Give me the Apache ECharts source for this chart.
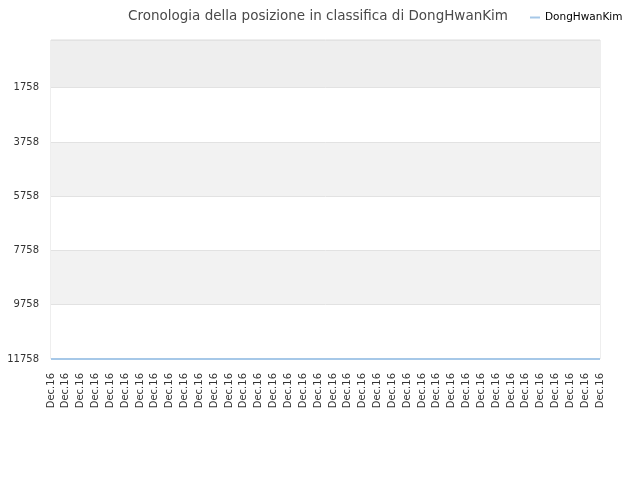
<!DOCTYPE html>
<html>
<head>
<meta charset="utf-8">
<script src="https://cdn.jsdelivr.net/npm/echarts@6/dist/echarts.min.js"></script>
<style>
html,body{margin:0;padding:0;background:#fff;}
#chart{width:640px;height:480px;}
</style>
</head>
<body>
<div id="chart"></div>
<script>
// dati
var titleText = 'Cronologia della posizione in classifica di DongHwanKim';
var seriesName = 'DongHwanKim';
var dates = ['Dec.16','Dec.16','Dec.16','Dec.16','Dec.16','Dec.16','Dec.16','Dec.16','Dec.16','Dec.16',
	'Dec.16','Dec.16','Dec.16','Dec.16','Dec.16','Dec.16','Dec.16','Dec.16','Dec.16','Dec.16',
	'Dec.16','Dec.16','Dec.16','Dec.16','Dec.16','Dec.16','Dec.16','Dec.16','Dec.16','Dec.16',
	'Dec.16','Dec.16','Dec.16','Dec.16','Dec.16','Dec.16','Dec.16','Dec.16'];
var ranks = [11758,11758,11758,11758,11758,11758,11758,11758,11758,11758,
	11758,11758,11758,11758,11758,11758,11758,11758,11758,11758,
	11758,11758,11758,11758,11758,11758,11758,11758,11758,11758,
	11758,11758,11758,11758,11758,11758,11758,11758];
var yLabels = [1758,3758,5758,7758,9758,11758];
var yBands = [0,1758,3758,5758,7758,9758,11758];

var chart = echarts.init(document.getElementById('chart'));
var option = {
	animation:false,
	textStyle:{fontFamily:'DejaVu Sans'},
	title:{
		text:titleText,
		left:313,
		textAlign:'center',
		top:4,
		textStyle:{fontFamily:'DejaVu Sans',fontSize:13.5,fontWeight:'normal',color:'#4a4a4a'}
	},
	legend:{
		data:[seriesName],
		left:525,
		top:7,
		itemWidth:10,
		itemHeight:2,
		itemGap:5,
		icon:'rect',
		textStyle:{fontFamily:'DejaVu Sans',fontSize:10.5,color:'#000'}
	},
	grid:{left:51,right:40,top:40,bottom:121,containLabel:false,show:true,borderColor:'#dddddd',borderWidth:1},
	xAxis:{
		type:'category',
		data:dates,
		boundaryGap:false,
		axisLine:{show:false},
		axisTick:{show:false},
		splitLine:{show:false},
		axisLabel:{rotate:90,interval:0,fontSize:10,color:'#333',margin:14,fontFamily:'DejaVu Sans'}
	},
	yAxis:{
		type:'value',
		inverse:true,
		min:0,
		max:11758,
		axisLine:{show:false},
		axisTick:{show:false,customValues:yBands},
		axisLabel:{customValues:yLabels,fontSize:10,color:'#333',margin:12,fontFamily:'DejaVu Sans',
			formatter:function(v){return String(v);}},
		splitLine:{show:true,lineStyle:{color:'#e2e2e2'}},
		splitArea:{show:true,areaStyle:{color:['#eeeeee','#ffffff','#f2f2f2','#ffffff','#f2f2f2','#ffffff']}}
	},
	series:[{
		name:seriesName,
		type:'line',
		data:ranks,
		symbol:'none',
		lineStyle:{color:'#a6c8e8',width:2},
		itemStyle:{color:'#a6c8e8'}
	}]
};
chart.setOption(option);
</script>
</body>
</html>
